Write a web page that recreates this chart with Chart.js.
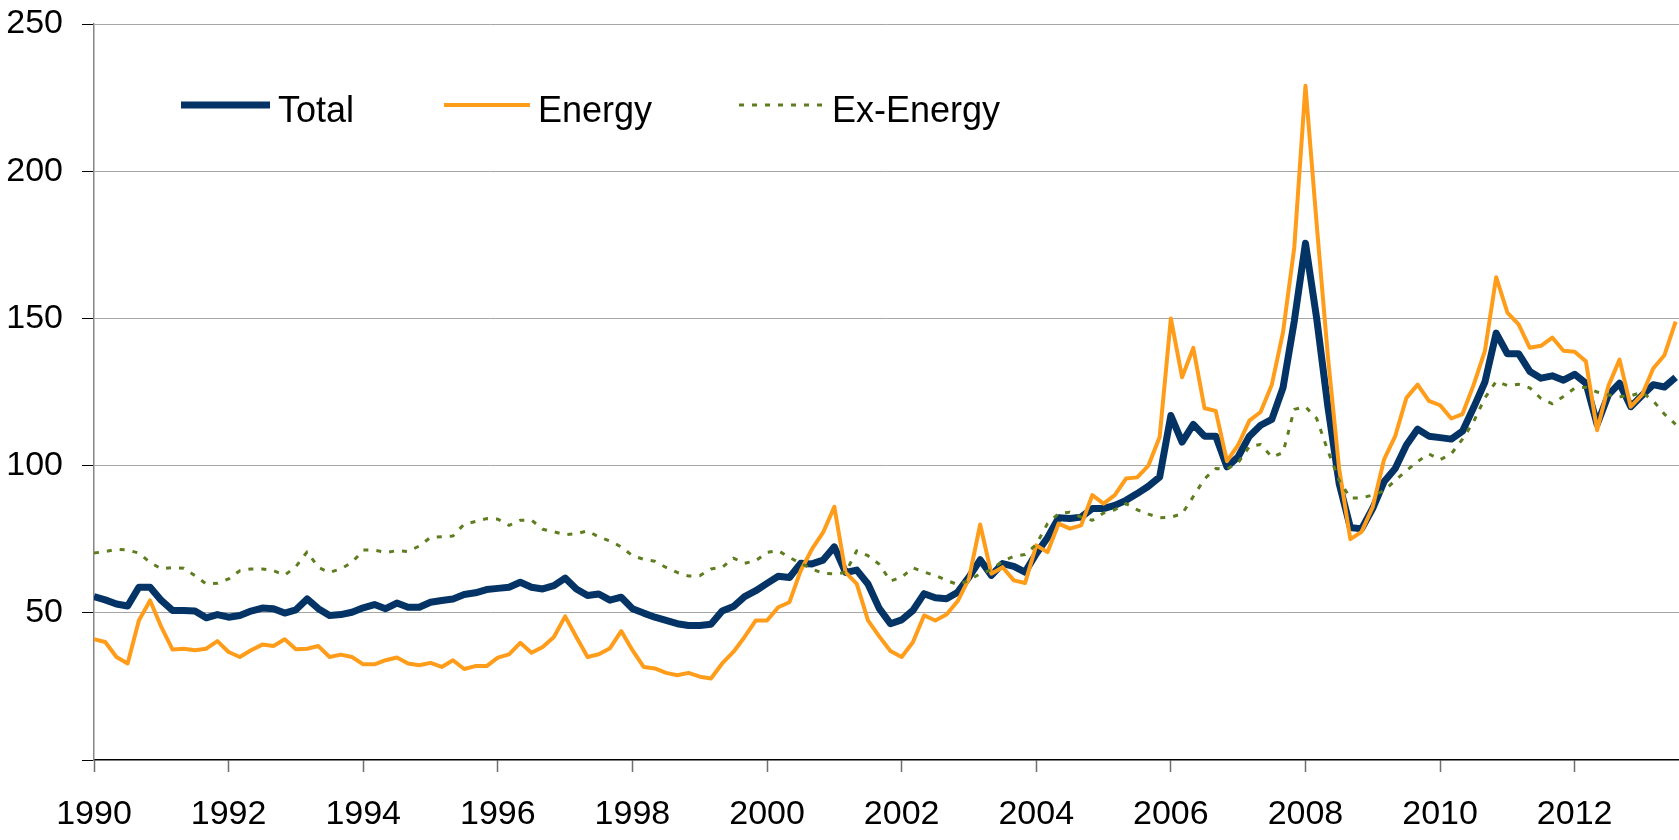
<!DOCTYPE html>
<html>
<head>
<meta charset="utf-8">
<title>Total, Energy, Ex-Energy</title>
<script src="https://cdn.jsdelivr.net/npm/chart.js@4.4.1/dist/chart.umd.min.js"></script>
<style>
  html, body { margin: 0; padding: 0; background: #fff; }
  canvas { display: block; }
</style>
</head>
<body>
<canvas id="chart" width="1679" height="840"></canvas>
<script>
// one value every two months, starting January 1990
const START_YEAR = 1990;
const END_YEAR = 2013.55;
const STEP = 1 / 6;

const seriesNames = ['Total', 'Energy', 'Ex-Energy'];
const yearLabels = [1990, 1992, 1994, 1996, 1998, 2000, 2002, 2004, 2006, 2008, 2010, 2012];
const valueTicks = [50, 100, 150, 200, 250];

const total = [
    55.5, 54.4, 53.0, 52.3, 58.7, 58.7, 54.2, 50.8, 50.8, 50.6, 48.3, 49.4, 48.5, 49.1, 50.6, 51.6, 51.4, 49.9, 51.0, 54.7, 51.4, 49.1, 49.4,
    50.2, 51.7, 52.8, 51.4, 53.3, 51.9, 51.9, 53.6, 54.2, 54.7, 56.2, 56.8, 57.9, 58.3, 58.7, 60.4, 58.7, 58.1, 59.2, 61.8, 58.1, 55.9, 56.4, 54.3,
    55.3, 51.4, 49.9, 48.5, 47.4, 46.3, 45.7, 45.7, 46.1, 50.6, 52.1, 55.5, 57.5, 60.0, 62.4, 62.0, 66.8, 66.6, 67.9, 72.4, 63.7, 64.5, 59.8, 51.5,
    46.3, 47.6, 50.8, 56.5, 55.1, 54.8, 57.0, 62.1, 68.0, 62.7, 66.7, 65.8, 63.8, 70.1, 75.5, 82.3, 82.0, 82.5,
    85.4, 85.4, 86.5, 88.2, 90.5, 93.0, 96.1, 117.0, 108.0, 114.0, 110.0,
    110.0, 99.6, 103.0, 110.0, 113.7, 115.7, 126.5, 149.0, 175.5, 150.0,
    120.0, 94.0, 79.0, 78.5, 85.5, 94.5, 99.0, 107.0, 112.4, 110.0,
    109.5, 109.0, 111.7, 119.8, 128.4, 145.0, 138.0, 138.0, 132.0, 129.7,
    130.5, 129.0, 131.0, 128.0, 114.0, 124.0, 128.0, 120.0, 123.8, 127.5, 126.7, 130.0
];

const energy = [
    41.0, 40.1, 35.0, 32.8, 47.4, 54.2, 45.2, 37.5, 37.8, 37.3, 37.8, 40.4, 36.7, 35.0, 37.3, 39.2, 38.7, 41.0, 37.6, 37.8, 38.7, 35.0, 35.8,
    35.0, 32.5, 32.5, 33.9, 34.8, 32.8, 32.2, 33.0, 31.6, 33.9, 30.9, 31.9, 31.9, 34.8, 35.9, 39.8, 36.4, 38.4, 41.8, 48.8, 41.8, 35.0, 35.9, 38.0,
    43.8, 37.3, 31.6, 31.1, 29.6, 28.8, 29.6, 28.3, 27.7, 32.8, 36.7, 41.8, 47.4, 47.4, 51.9, 53.6, 64.3, 71.6, 77.3, 86.0, 63.7, 59.8, 47.4, 42.0,
    37.0, 35.0, 40.0, 49.1, 47.4, 49.4, 54.0, 61.6, 80.0, 63.3, 65.5, 61.0, 60.1, 72.9, 70.6, 80.3, 78.6, 79.7,
    90.0, 87.1, 90.0, 95.6, 96.0, 100.0, 109.7, 150.0, 130.0, 140.0, 119.5,
    118.6, 101.5, 107.0, 115.3, 118.2, 127.5, 145.3, 174.0, 229.0, 182.0,
    137.0, 99.0, 75.0, 77.5, 86.0, 102.0, 110.0, 123.0, 127.5, 122.0,
    120.5, 116.0, 117.5, 127.5, 139.0, 164.0, 152.0, 148.0, 140.0, 140.7,
    143.5, 139.0, 138.7, 135.4, 112.0, 127.0, 136.0, 120.0, 124.0, 133.0, 137.5, 148.9
];

const exEnergy = [
    70.3, 70.8, 71.6, 71.3, 70.3, 67.1, 64.9, 65.4, 65.1, 62.6, 59.8, 60.0, 61.5, 64.3, 64.9, 64.9, 64.3, 62.8, 65.7, 70.7, 65.4, 63.7, 64.9,
    67.1, 71.3, 71.3, 70.5, 71.1, 70.8, 72.7, 75.6, 75.8, 76.1, 80.1, 81.0, 82.0, 81.8, 79.7, 81.4, 81.5, 78.4, 77.5, 76.5, 76.9, 77.8, 75.8, 74.4,
    72.4, 69.4, 68.2, 67.5, 65.4, 63.7, 62.5, 62.6, 64.9, 65.4, 68.6, 66.8, 67.7, 70.5, 71.1, 68.8, 66.8, 64.9, 63.4, 63.2, 63.7, 71.1, 69.4, 66.5,
    60.8, 62.1, 65.3, 63.8, 62.7, 61.0, 59.6, 61.0, 63.3, 64.6, 67.6, 69.2, 69.8, 73.2, 80.3, 83.7, 84.2, 82.5,
    81.4, 83.9, 85.0, 87.1, 85.0, 83.5, 82.3, 82.5, 83.6, 89.5, 95.5,
    99.0, 98.8, 101.0, 106.5, 107.2, 102.9, 104.4, 119.1, 120.0, 116.0,
    105.0, 95.0, 89.0, 89.0, 90.0, 91.4, 95.0, 98.3, 101.4, 104.0,
    102.0, 104.0, 109.0, 115.0, 123.0, 128.6, 127.2, 127.6, 126.4, 122.8,
    121.0, 123.5, 126.3, 126.6, 125.0, 124.0, 123.4, 123.7, 124.9, 122.0, 117.5, 114.0
];

const FONT = '"Liberation Sans", Arial, sans-serif';

function toPoints(values) {
    return values.map((v, i) => ({ x: START_YEAR + i * STEP, y: v }));
}

// legend drawn inside the plot, top left
const legendSpots = [
    { x0: 181, x1: 270 },
    { x0: 444, x1: 530 },
    { x0: 739, x1: 824 }
];

const inlineLegend = {
    id: 'inlineLegend',
    afterDraw(chart) {
        const ctx = chart.ctx;
        const y = 105;
        chart.data.datasets.forEach((ds, i) => {
            const spot = legendSpots[i];
            ctx.save();
            ctx.strokeStyle = ds.borderColor;
            ctx.lineWidth = ds.borderWidth;
            ctx.setLineDash(ds.borderDash || []);
            ctx.beginPath();
            ctx.moveTo(spot.x0, y);
            ctx.lineTo(spot.x1, y);
            ctx.stroke();
            ctx.setLineDash([]);
            ctx.fillStyle = '#000';
            ctx.font = '36px ' + FONT;
            ctx.textBaseline = 'alphabetic';
            ctx.fillText(ds.label, spot.x1 + 8, 122);
            ctx.restore();
        });
    }
};

const ctx = document.getElementById('chart').getContext('2d');

new Chart(ctx, {
    type: 'line',
    data: {
        datasets: [{
            label: seriesNames[0],
            data: toPoints(total),
            borderColor: '#043466',
            borderWidth: 7,
            order: 3
        }, {
            label: seriesNames[1],
            data: toPoints(energy),
            borderColor: '#ff9c1a',
            borderWidth: 4,
            order: 2
        }, {
            label: seriesNames[2],
            data: toPoints(exEnergy),
            borderColor: '#5e7d1f',
            borderWidth: 3,
            borderDash: [5, 8],
            order: 1
        }]
    },
    options: {
        responsive: false,
        animation: false,
        devicePixelRatio: 1,
        layout: { padding: { top: 24, right: 0, bottom: 0, left: 0 } },
        elements: {
            point: { radius: 0 },
            line: { tension: 0, borderCapStyle: 'butt', borderJoinStyle: 'round' }
        },
        plugins: {
            legend: { display: false },
            tooltip: { enabled: false }
        },
        scales: {
            x: {
                type: 'linear',
                min: START_YEAR,
                max: END_YEAR,
                afterBuildTicks: scale => {
                    scale.ticks = yearLabels.map(v => ({ value: v }));
                },
                afterFit: scale => {
                    scale.height = 80;
                    scale.paddingLeft = 0;
                    scale.paddingRight = 0;
                },
                border: { color: '#000', width: 1.5 },
                grid: {
                    drawOnChartArea: false,
                    drawTicks: true,
                    tickLength: 12,
                    tickColor: '#6e6e6e',
                    tickWidth: 1.5
                },
                ticks: {
                    autoSkip: false,
                    maxRotation: 0,
                    padding: 22,
                    color: '#000',
                    font: { family: FONT, size: 34 },
                    callback: v => String(v)
                }
            },
            y: {
                min: 0,
                max: 250,
                afterBuildTicks: scale => {
                    scale.ticks = [0].concat(valueTicks).map(v => ({ value: v }));
                },
                afterFit: scale => {
                    scale.width = 94;
                    scale.paddingTop = 0;
                    scale.paddingBottom = 0;
                },
                border: { color: '#868686', width: 1.5 },
                grid: {
                    color: c => (c.tick && c.tick.value === 0 ? 'rgba(0,0,0,0)' : '#a6a6a6'),
                    lineWidth: 1,
                    tickLength: 12,
                    tickColor: '#000',
                    tickWidth: 1
                },
                ticks: {
                    padding: 19,
                    color: '#000',
                    font: { family: FONT, size: 34 },
                    callback: v => (v === 0 ? '' : String(v))
                }
            }
        }
    },
    plugins: [inlineLegend]
});
</script>
</body>
</html>
